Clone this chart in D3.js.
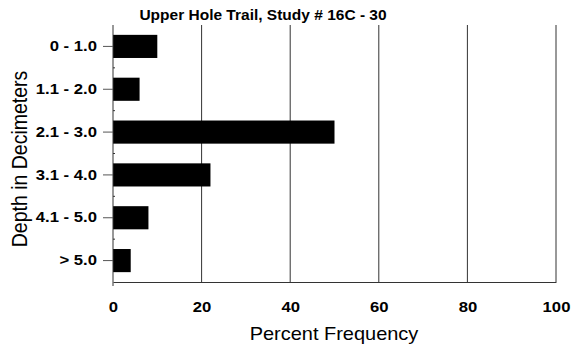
<!DOCTYPE html>
<html>
<head>
<meta charset="utf-8">
<script src="https://cdn.jsdelivr.net/npm/d3@7"></script>
<style>
  body { margin: 0; background: #fff; }
  text { font-family: Arial, "Liberation Sans", sans-serif; }
</style>
</head>
<body>
<script>
// data
var depths = ["0 - 1.0", "1.1 - 2.0", "2.1 - 3.0", "3.1 - 4.0", "4.1 - 5.0", "> 5.0"];
var percents = [10, 6, 50, 22, 8, 4];
var xTicks = [0, 20, 40, 60, 80, 100];

// dimensions
var width = 572;
var height = 348;
var margin = { top: 25, right: 16, bottom: 66, left: 113 };
var stretch = 1.15; // the original's lettering is a little wide

var svg = d3.select("body")
  .append("svg")
  .attr("width", width)
  .attr("height", height);

var x = d3.scaleLinear()
  .domain([0, 100])
  .range([margin.left, width - margin.right]);

var y = d3.scaleBand()
  .domain(depths)
  .range([margin.top, height - margin.bottom])
  .paddingInner(0.46)
  .paddingOuter(0.23);

var bottom = height - margin.bottom;

// vertical grid lines
svg.selectAll(".grid")
  .data(xTicks.slice(1))
  .enter()
  .append("line")
  .attr("x1", function (d) { return x(d); })
  .attr("x2", function (d) { return x(d); })
  .attr("y1", margin.top)
  .attr("y2", bottom)
  .style("stroke", "#333")
  .style("stroke-width", "1px");

// bars
svg.selectAll(".bar")
  .data(depths)
  .enter()
  .append("rect")
  .attr("x", x(0))
  .attr("y", function (d) { return y(d); })
  .attr("width", function (d, i) { return x(percents[i]) - x(0); })
  .attr("height", y.bandwidth())
  .style("fill", "#000");

// x axis
var xAxis = svg.append("g")
  .attr("transform", "translate(0," + bottom + ")")
  .call(d3.axisBottom(x).tickValues(xTicks).tickSize(0).tickPadding(20));
xAxis.select(".domain").style("stroke", "#333");
xAxis.selectAll("text")
  .attr("transform", "scale(" + stretch + ",1)")
  .style("font-size", "14.5px")
  .style("font-weight", "bold")
  .style("font-family", "Arial, 'Liberation Sans', sans-serif")
  .style("fill", "#000");

// y axis
var yAxis = svg.append("g")
  .attr("transform", "translate(" + x(0) + ",0)")
  .call(d3.axisLeft(y).tickSize(10).tickPadding(4));
yAxis.select(".domain").style("stroke", "#333").attr("d", "M0," + (margin.top) + "V" + (bottom + 4));
yAxis.selectAll("line").style("stroke", "#555");
yAxis.selectAll("text")
  .attr("transform", "scale(" + stretch + ",1)")
  .style("font-size", "14.5px")
  .style("font-weight", "bold")
  .style("font-family", "Arial, 'Liberation Sans', sans-serif")
  .style("fill", "#000");

// small ticks at band boundaries
svg.selectAll(".minor")
  .data(depths.slice(1))
  .enter()
  .append("line")
  .attr("x1", x(0))
  .attr("x2", x(0) + 2)
  .attr("y1", function (d) { return y(d) - y.step() * y.paddingInner() / 2; })
  .attr("y2", function (d) { return y(d) - y.step() * y.paddingInner() / 2; })
  .style("stroke", "#333");

// title
svg.append("text")
  .attr("transform", "translate(263,20) scale(1.07,1)")
  .attr("text-anchor", "middle")
  .style("font-size", "14.5px")
  .style("font-weight", "bold")
  .text("Upper Hole Trail, Study # 16C - 30");

// axis titles
svg.append("text")
  .attr("transform", "translate(334,340) scale(1.11,1)")
  .attr("text-anchor", "middle")
  .style("font-size", "18px")
  .text("Percent Frequency");

svg.append("text")
  .attr("transform", "translate(27,159) scale(" + stretch + ",1) rotate(-90)")
  .attr("text-anchor", "middle")
  .style("font-size", "19.5px")
  .text("Depth in Decimeters");
</script>
</body>
</html>
